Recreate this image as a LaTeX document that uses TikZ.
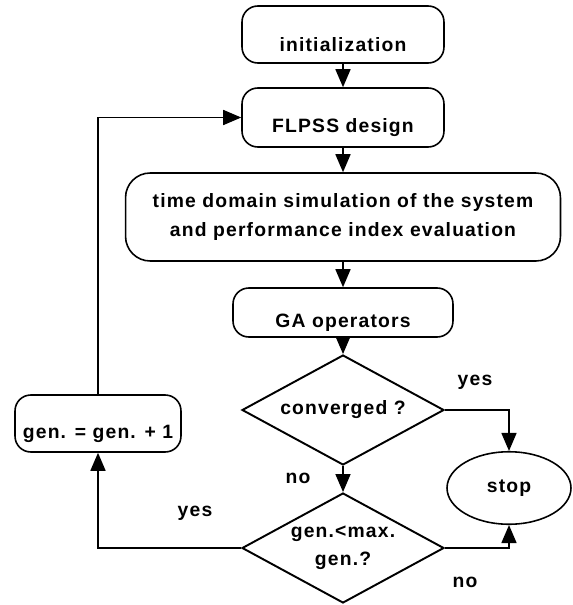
\documentclass[tikz,border=0pt]{standalone}
\usepackage{fontspec}
\newfontfamily\flowfont[LetterSpace=6]{Liberation Sans}
\usetikzlibrary{arrows.meta,shapes.geometric}

\begin{document}
\begin{tikzpicture}[x=0.02cm, y=-0.02cm,
		every node/.style={font=\flowfont\bfseries\fontsize{11}{16}\selectfont},
		stepbox/.style={draw, line width=0.9pt, rounded corners=9pt, inner xsep=0pt, inner ysep=2pt, align=center, execute at begin node={\rule{0pt}{19pt}}},
		decision/.style={draw, line width=1.1pt, diamond, aspect=1.84, inner sep=0pt, align=center, minimum width=4.04cm, minimum height=2.2cm},
		flow/.style={line width=0.9pt, -{Triangle[length=0.36cm, width=0.3cm]}}]
	\useasboundingbox (0,0) rectangle (573,605);

	\node[stepbox, minimum width=4.04cm, minimum height=1.14cm] (init) at (343,34.5) {initialization};
	\node[stepbox, minimum width=4.04cm, minimum height=1.18cm] (fl) at (343,117.5) {FLPSS design};
	\node[stepbox, rounded corners=14pt, minimum width=8.7cm, minimum height=1.76cm] (sim) at (343,217) {time domain simulation of the system\\and performance index evaluation};
	\node[stepbox, minimum width=4.4cm, minimum height=0.98cm] (ga) at (343,312.5) {GA operators};
	\node[decision] (conv) at (343,410) {converged ?};
	\node[decision] (gen) at (343,548) {gen.<max.\\gen.?};
	\node[draw, line width=0.9pt, ellipse, inner sep=0pt, minimum width=2.48cm, minimum height=1.45cm] (stop) at (509,488) {stop};
	\node[stepbox, minimum width=3.32cm, minimum height=1.14cm] (inc) at (98,423.5) {gen. = gen. + 1};

	\node (yesconv) at (475,382) {yes};
	\node (noconv) at (298,478) {no};
	\node (yesgen) at (195,513) {yes};
	\node (nogen) at (465,582) {no};

	\draw[flow] (init) -- (fl);
	\draw[flow] (fl) -- (sim);
	\draw[flow] (sim) -- (ga);
	\draw[flow] (ga) -- (conv);
	\draw[flow] (conv) -- (gen);
	\draw[flow] (conv.east) -| (stop.north);
	\draw[flow] (gen.east) -| (stop.south);
	\draw[flow] (gen.west) -| (inc.south);
	\draw[flow] (inc.north) |- (fl.west);
\end{tikzpicture}
\end{document}
